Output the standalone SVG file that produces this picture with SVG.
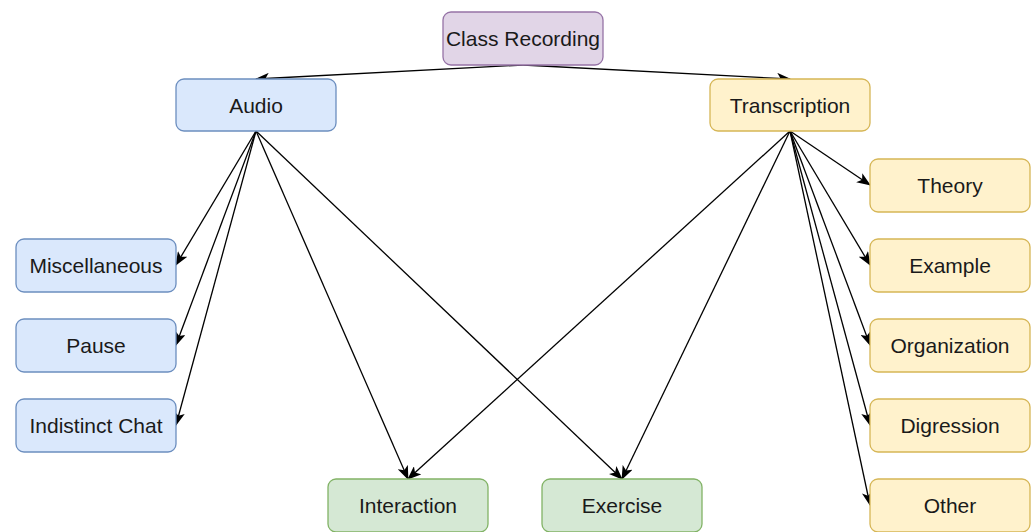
<svg xmlns="http://www.w3.org/2000/svg" width="1035" height="532" viewBox="0 0 1035 532">
<style>
.n rect{stroke-width:1.3}
.b rect{fill:#dae8fc;stroke:#6c8ebf}
.y rect{fill:#fff2cc;stroke:#d6b656}
.g rect{fill:#d5e8d4;stroke:#82b366}
.p rect{fill:#e1d5e7;stroke:#9673a6}
text{font-family:"Liberation Sans",Arial,sans-serif;font-size:21px;fill:#1a1a1a;text-anchor:middle}
#edges path{fill:none;stroke:#000;stroke-width:1.3;marker-end:url(#arr)}
</style>
<defs>
<marker id="arr" viewBox="0 0 14 11" refX="13" refY="5.5" markerWidth="14" markerHeight="11" markerUnits="userSpaceOnUse" orient="auto">
<path d="M0,0 L14,5.5 L0,11 L3.5,5.5 Z" fill="#000"/>
</marker>
</defs>
<rect width="1035" height="532" fill="#fff"/>
<g id="edges">
<path d="M523,65 L256,79"/>
<path d="M523,65 L790,79"/>
<path d="M256,131 L176,265"/>
<path d="M256,131 L176,345"/>
<path d="M256,131 L176,425"/>
<path d="M256,131 L408,479"/>
<path d="M256,131 L622,479"/>
<path d="M790,131 L870,185"/>
<path d="M790,131 L870,265"/>
<path d="M790,131 L870,345"/>
<path d="M790,131 L870,425"/>
<path d="M790,131 L870,505"/>
<path d="M790,131 L408,479"/>
<path d="M790,131 L622,479"/>
</g>
<g id="class-recording" class="n p"><rect x="443" y="12" width="160" height="53" rx="8"/><text x="523" y="46">Class Recording</text></g>
<g id="audio" class="n b"><rect x="176" y="79" width="160" height="52" rx="8"/><text x="256" y="112.5">Audio</text></g>
<g id="transcription" class="n y"><rect x="710" y="79" width="160" height="52" rx="8"/><text x="790" y="112.5">Transcription</text></g>
<g id="miscellaneous" class="n b"><rect x="16" y="239" width="160" height="53" rx="8"/><text x="96" y="273">Miscellaneous</text></g>
<g id="pause" class="n b"><rect x="16" y="319" width="160" height="53" rx="8"/><text x="96" y="353">Pause</text></g>
<g id="indistinct-chat" class="n b"><rect x="16" y="399" width="160" height="53" rx="8"/><text x="96" y="433">Indistinct Chat</text></g>
<g id="theory" class="n y"><rect x="870" y="159" width="160" height="53" rx="8"/><text x="950" y="193">Theory</text></g>
<g id="example" class="n y"><rect x="870" y="239" width="160" height="53" rx="8"/><text x="950" y="273">Example</text></g>
<g id="organization" class="n y"><rect x="870" y="319" width="160" height="53" rx="8"/><text x="950" y="353">Organization</text></g>
<g id="digression" class="n y"><rect x="870" y="399" width="160" height="53" rx="8"/><text x="950" y="433">Digression</text></g>
<g id="other" class="n y"><rect x="870" y="479" width="160" height="53" rx="8"/><text x="950" y="513">Other</text></g>
<g id="interaction" class="n g"><rect x="328" y="479" width="160" height="53" rx="8"/><text x="408" y="513">Interaction</text></g>
<g id="exercise" class="n g"><rect x="542" y="479" width="160" height="53" rx="8"/><text x="622" y="513">Exercise</text></g>
</svg>
